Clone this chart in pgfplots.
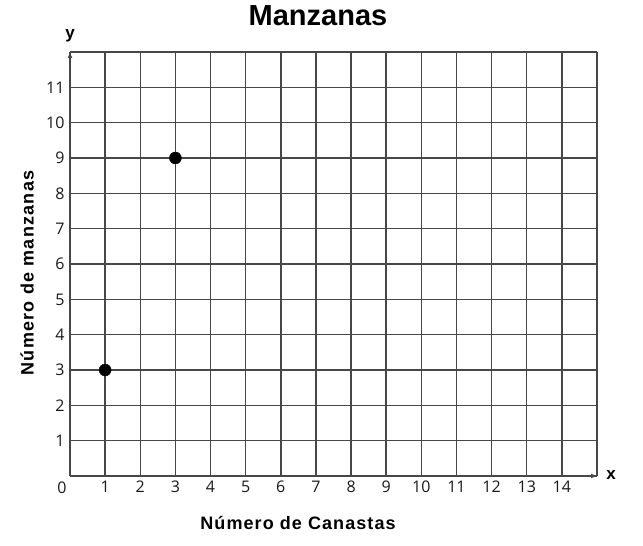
\documentclass[border=0pt]{standalone}
\usepackage{fontspec}
\setmainfont{Liberation Sans}
\newfontfamily\tickfont[Numbers=Lining]{Open Sans}
\usepackage{pgfplots}
\pgfplotsset{compat=1.18}
\usetikzlibrary{arrows.meta}
\begin{document}
\begin{tikzpicture}[x=1bp,y=1bp]
\path[use as bounding box] (0,0) rectangle (643,546);
\begin{axis}[
  at={(70bp,70bp)}, anchor=south west,
  scale only axis, width=527bp, height=424bp,
  xmin=0, xmax=15, ymin=0, ymax=12,
  xtick={0,...,15}, ytick={0,...,12},
  xticklabels={,1,2,3,4,5,6,7,8,9,10,11,12,13,14,},
  yticklabels={,1,2,3,4,5,6,7,8,9,10,11,},
  axis lines=left,
  axis line style={line width=1.5bp, draw=black!72},
  x axis line style={-{Latex[length=6bp,width=5bp]}},
  y axis line style={-{Latex[length=6bp,width=5bp]}},
  grid=major,
  grid style={line width=1.5bp, draw=black!72},
  major tick length=0pt,
  tick label style={font=\tickfont\fontsize{16bp}{18bp}\selectfont, text=black!90, text height=11.5bp, text depth=0bp},
  xticklabel style={yshift=-1bp},
  yticklabel style={xshift=-2bp},
  /pgf/number format/assume math mode=true,
  clip=false,
]
\addplot[only marks, mark=*, mark size=6bp, black] coordinates {(1,3) (3,9)};
\end{axis}
\node[font=\bfseries\fontsize{29bp}{32bp}\selectfont] at (318,530) {Manzanas};
\node[font=\bfseries\fontsize{18bp}{20bp}\selectfont\addfontfeature{LetterSpace=6}] at (298,23) {Número de Canastas};
\node[rotate=90, font=\bfseries\fontsize{18bp}{20bp}\selectfont\addfontfeature{LetterSpace=7}] at (27,273) {Número de manzanas};
\node[font=\bfseries\fontsize{17bp}{18bp}\selectfont] at (70,510) {y};
\node[font=\bfseries\fontsize{17bp}{18bp}\selectfont] at (611,71) {x};
\node[font=\tickfont\fontsize{16bp}{18bp}\selectfont, text=black!90] at (62,58) {0};
\end{tikzpicture}
\end{document}
